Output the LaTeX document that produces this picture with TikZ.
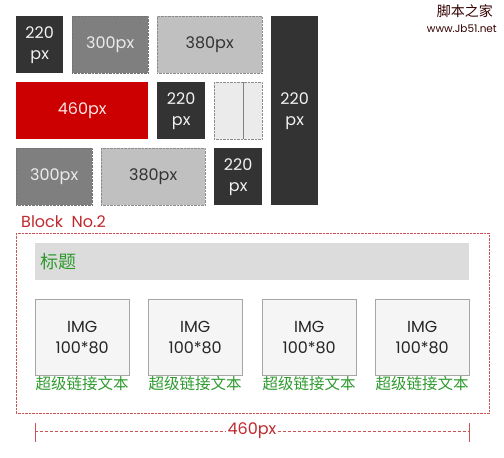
\documentclass[tikz,border=0pt]{standalone}
\usepackage{fontspec}
\setmainfont{Poppins}
\newfontfamily\cjk{Noto Sans CJK SC}

\definecolor{darkbox}{HTML}{333333}
\definecolor{midbox}{HTML}{7F7F7F}
\definecolor{lightbox}{HTML}{C0C0C0}
\definecolor{palebox}{HTML}{EBEBEB}
\definecolor{redbox}{HTML}{CC0000}
\definecolor{blockred}{HTML}{C0282C}
\definecolor{linkgreen}{HTML}{2E9A2E}
\definecolor{titlegray}{HTML}{DCDCDC}

\begin{document}
\begin{tikzpicture}[x = 1pt, y = -1pt,
    every node/.style = {inner sep = 0pt, font = \fontsize{16}{21}\selectfont},
    cell/.style = {anchor = north west, align = center},
    dark/.style = {cell, fill = darkbox, text = white!95!black},
    mid/.style = {cell, fill = midbox, draw = black!55, densely dotted, text = white!92!black},
    light/.style = {cell, fill = lightbox, draw = black!45, densely dotted, text = darkbox},
    pale/.style = {cell, fill = palebox, draw = black!45, densely dotted},
    imgbox/.style = {cell, fill = black!4, draw = black!35, align = center, text = black!85,
        minimum width = 94pt, minimum height = 76pt},
    linktext/.style = {anchor = north, text = linkgreen, font = \cjk\fontsize{15.5}{18}\selectfont}]
    \useasboundingbox (0,0) rectangle (504,458);

    % block no.1
    \node[dark, minimum width = 47pt, minimum height = 57pt] (a1) at (16,16) {220\\px};
    \node[mid, minimum width = 76pt, minimum height = 57pt] (a2) at (72,16) {300px};
    \node[light, minimum width = 105pt, minimum height = 57pt] (a3) at (157,16) {380px};
    \node[dark, minimum width = 47pt, minimum height = 189pt] (tall) at (271,16) {220\\px};
    \node[cell, fill = redbox, text = white!90!red, minimum width = 132pt, minimum height = 57pt] (b1) at (16,82) {460px};
    \node[dark, minimum width = 48pt, minimum height = 57pt] (b2) at (157,82) {220\\px};
    \node[pale, minimum width = 48pt, minimum height = 57pt] (b3) at (214,82) {};
    \draw[black!50] ([xshift = 29pt]b3.north west) -- ([xshift = 29pt]b3.south west);
    \node[mid, minimum width = 76pt, minimum height = 57pt] (c1) at (16,148) {300px};
    \node[light, minimum width = 104pt, minimum height = 57pt] (c2) at (101,148) {380px};
    \node[dark, minimum width = 48pt, minimum height = 57pt] (c3) at (214,148) {220\\px};

    % watermark
    \node[anchor = north east, text = black!80!red, font = \cjk\fontsize{14}{16}\selectfont] (mark1) at (493,4) {脚本之家};
    \node[anchor = north east, text = black!80!red, font = \fontsize{10.5}{12}\selectfont] (mark2) at (497,25) {www.Jb51.net};

    % block no.2
    \node[anchor = base west, text = blockred] (blocklabel) at (21,227) {Block\ \ No.2};
    \node[cell, draw = blockred!80, densely dotted, minimum width = 473pt, minimum height = 180pt] (block) at (16,233) {};
    \node[cell, fill = titlegray, minimum width = 434pt, minimum height = 37pt] (titlebar) at (35,243) {};
    \node[anchor = west, text = linkgreen, font = \cjk\fontsize{18}{20}\selectfont] (title) at ([xshift = 5pt]titlebar.west) {标题};

    \foreach \i/\x in {1/35, 2/148, 3/262, 4/375} {
        \node[imgbox] (img\i) at (\x,299) {IMG\\100*80};
        \node[linktext] (link\i) at ([yshift = -1pt]img\i.south) {超级链接文本};
    }

    % width
    \coordinate (dl) at (35,431);
    \coordinate (dr) at (469,431);
    \node[fill = white, text = blockred, inner xsep = 1pt] (width) at (252,431) {460px};
    \draw[blockred!80, densely dashed] (dl) -- (width) -- (dr);
    \draw[blockred!80] ([yshift = 8pt]dl) -- ([yshift = -11pt]dl);
    \draw[blockred!80] ([yshift = 8pt]dr) -- ([yshift = -11pt]dr);
\end{tikzpicture}
\end{document}
